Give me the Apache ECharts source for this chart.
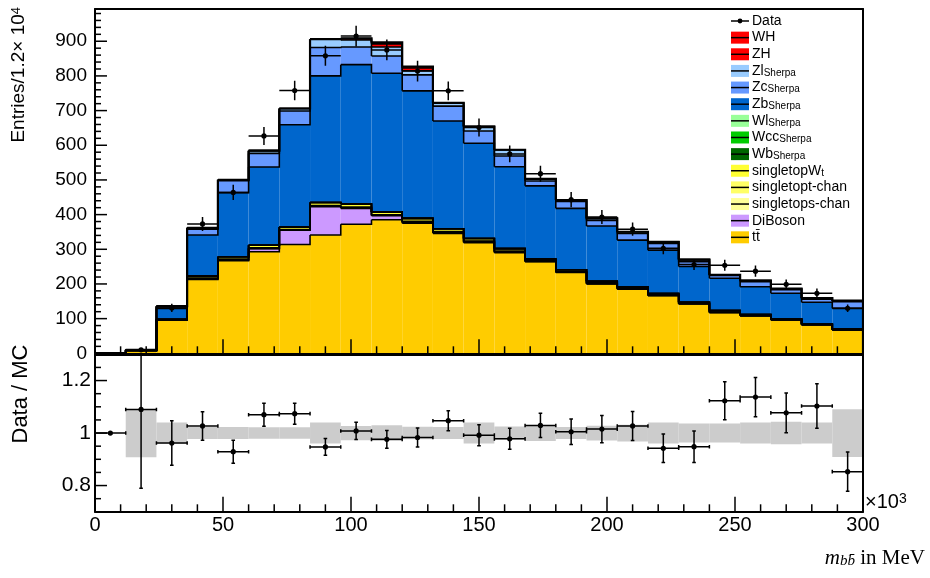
<!DOCTYPE html>
<html>
<head>
<meta charset="utf-8">
<script src="https://cdn.jsdelivr.net/npm/echarts/dist/echarts.min.js"></script>
<style>
html, body { margin: 0; padding: 0; background: #fff; }
#chart { width: 930px; height: 578px; }
</style>
</head>
<body>
<div id="chart"></div>
<script>
// bins of 12 GeV (values in units of 10^3 MeV)
var binLo = [0, 12, 24, 36, 48, 60, 72, 84, 96, 108, 120, 132, 144, 156, 168, 180, 192, 204, 216, 228, 240, 252, 264, 276, 288];
var binHi = [12, 24, 36, 48, 60, 72, 84, 96, 108, 120, 132, 144, 156, 168, 180, 192, 204, 216, 228, 240, 252, 264, 276, 288, 300];

// MC components, bottom of the stack first
var ttbar   = [0, 8, 96, 213, 267, 293, 314, 341, 372, 385, 375, 346, 319, 290, 264, 233, 200, 185, 166, 142, 117, 108, 96, 82, 67];
var diboson = [0, 0, 0, 2, 2, 9, 41, 82, 46, 12, 3, 2, 2, 2, 1, 1, 1, 1, 1, 1, 1, 0.5, 0.5, 0.5, 0.5];
var stopS   = [0, 0, 0.2, 0.5, 0.5, 0.5, 0.5, 1, 1, 1, 1, 1, 1, 1, 0.5, 0.5, 0.5, 0.5, 0.5, 0.3, 0.3, 0.3, 0.3, 0.2, 0.2];
var stopT   = [0, 0, 0.3, 1.5, 2, 1.5, 1.5, 2, 2.5, 1.5, 2, 2, 2, 2, 1.5, 1.5, 1.5, 1, 1, 1, 1, 1, 0.5, 0.5, 0.5];
var stopWt  = [0, 0.5, 1.5, 6, 7, 7.5, 7, 9, 9, 8, 8, 8, 7, 7, 5, 5, 5, 4, 4, 3, 4, 2, 2, 2, 1.5];
var wb      = [0, 0, 0, 0, 0, 0, 0, 0, 0, 0, 0, 0, 0, 0, 0, 0, 0, 0, 0, 0, 0, 0, 0, 0, 0];
var wcc     = [0, 0, 0, 0, 0, 0, 0, 0, 0, 0, 0, 0, 0, 0, 0, 0, 0, 0, 0, 0, 0, 0, 0, 0, 0];
var wl      = [0, 0, 0, 0, 0, 0, 0, 0, 0, 0, 0, 0, 0, 0, 0, 0, 0, 0, 0, 0, 0, 0, 0, 0, 0];
var zb      = [0, 1, 31, 118, 185, 226, 295, 365, 402, 400, 368, 311, 275, 236, 211, 177, 159, 135, 125, 103, 93, 80, 74, 62, 60];
var zc      = [0, 0.3, 5, 17, 34, 39, 40, 82, 51, 50, 46, 43, 35, 31, 14, 20, 16, 19, 19, 14, 8, 15, 10, 9, 19];
var zl      = [0, 0.2, 2, 4, 3, 8, 7, 24, 20, 26, 12, 8, 13, 18, 6, 4, 6, 5, 5, 6, 2, 3, 3, 3, 3];
var zh      = [0, 0, 0, 0, 0, 0, 0, 0, 4, 9, 8, 1, 0, 0, 0, 0, 0, 0, 0, 0, 0, 0, 0, 0, 0];
var wh      = [0, 0, 0, 0, 0, 0, 0, 0, 1, 4, 4, 0.5, 0, 0, 0, 0, 0, 0, 0, 0, 0, 0, 0, 0, 0];

// data
var dataVal = [0, 10, 131, 373, 464, 627, 758, 858, 915, 875, 814, 757, 651, 575, 518, 443, 393, 358, 303, 256, 254, 237, 199, 173, 130];
var dataErr = [0, 3, 12, 20, 22, 26, 28, 29, 30, 30, 30, 27, 26, 24, 23, 22, 20, 19, 17, 16, 16, 16, 14, 14, 11];

// ratio panel
var ratioVal = [1.0, 1.09, 0.962, 1.027, 0.929, 1.07, 1.074, 0.947, 1.008, 0.976, 0.983, 1.047, 0.992, 0.978, 1.029, 1.005, 1.015, 1.027, 0.942, 0.948, 1.123, 1.137, 1.077, 1.103, 0.853];
var ratioErr = [0, 0.30, 0.085, 0.054, 0.044, 0.044, 0.04, 0.032, 0.033, 0.034, 0.036, 0.038, 0.04, 0.04, 0.046, 0.049, 0.052, 0.055, 0.054, 0.06, 0.072, 0.075, 0.076, 0.085, 0.075];
var mcBand   = [0, 0.092, 0.04, 0.023, 0.023, 0.022, 0.022, 0.04, 0.027, 0.03, 0.024, 0.023, 0.04, 0.025, 0.03, 0.023, 0.028, 0.032, 0.04, 0.036, 0.036, 0.04, 0.043, 0.04, 0.091];

// tick marks
var xMajorTicks = [0, 50, 100, 150, 200, 250, 300];
var mainTicks = [0, 100, 200, 300, 400, 500, 600, 700, 800, 900];
var ratioTicks = [0.8, 1, 1.2];
var ratioMinorTicks = [0.75, 0.85, 0.9, 0.95, 1.05, 1.1, 1.15, 1.25];

var layers = [
  {name: 'tt\u0304', sub: '', color: '#FFCC00', values: ttbar},
  {name: 'DiBoson', sub: '', color: '#CC99FF', values: diboson},
  {name: 'singletops-chan', sub: '', color: '#FFFF99', values: stopS},
  {name: 'singletopt-chan', sub: '', color: '#FFFF66', values: stopT},
  {name: 'singletopW', sub: 't', color: '#FFFF33', values: stopWt},
  {name: 'Wb', sub: 'Sherpa', color: '#006600', values: wb},
  {name: 'Wcc', sub: 'Sherpa', color: '#00CC00', values: wcc},
  {name: 'Wl', sub: 'Sherpa', color: '#99FF99', values: wl},
  {name: 'Zb', sub: 'Sherpa', color: '#0066CC', values: zb},
  {name: 'Zc', sub: 'Sherpa', color: '#6699FF', values: zc},
  {name: 'Zl', sub: 'Sherpa', color: '#99CCFF', values: zl},
  {name: 'ZH', sub: '', color: '#FF0000', values: zh},
  {name: 'WH', sub: '', color: '#FF0000', values: wh}
];

var FONT = "'Liberation Sans', Arial, Helvetica, sans-serif";
var SERIF = "'Liberation Serif', 'Times New Roman', serif";
var myChart = echarts.init(document.getElementById('chart'));

// cumulative stack
var running = binLo.map(function () { return 0; });
var series = [];
layers.forEach(function (L, li) {
  var bottom = running.slice();
  running = running.map(function (v, k) { return v + L.values[k]; });
  var top = running.slice();
  var rows = binLo.map(function (lo, k) {
    var next = k + 1 < top.length ? top[k + 1] : 0;
    return [lo, binHi[k], bottom[k], top[k], next];
  });
  var lw = li === layers.length - 1 ? 2.2 : 1.6;
  series.push({
    type: 'custom',
    name: L.name,
    xAxisIndex: 0,
    yAxisIndex: 0,
    clip: true,
    data: rows,
    encode: {x: [0, 1], y: [2, 3]},
    renderItem: function (params, api) {
      var x0 = api.value(0), x1 = api.value(1), b = api.value(2), t = api.value(3), n = api.value(4);
      var pt = api.coord([x0, t]), pb = api.coord([x1, b]), pn = api.coord([x1, n]);
      var kids = [];
      if (t > b) {
        kids.push({type: 'rect', z2: 1,
          shape: {x: pt[0], y: pt[1], width: pb[0] - pt[0], height: pb[1] - pt[1]},
          style: {fill: L.color}});
      }
      kids.push({type: 'polyline', z2: 10 + li,
        shape: {points: [[pt[0], pt[1]], [pb[0], pt[1]], [pn[0], pn[1]]]},
        style: {stroke: '#000', lineWidth: lw, fill: null}});
      return {type: 'group', children: kids};
    }
  });
});

function pointRenderer(caps) {
  return function (params, api) {
    var x = api.value(0), y = api.value(1), e = api.value(2), x0 = api.value(3), x1 = api.value(4);
    var c = api.coord([x, y]), l = api.coord([x0, y]), r = api.coord([x1, y]);
    var up = api.coord([x, y + e]), dn = api.coord([x, y - e]);
    var st = {stroke: '#000', lineWidth: 1.5};
    var kids = [
      {type: 'line', z2: 40, shape: {x1: l[0], y1: c[1], x2: r[0], y2: c[1]}, style: st},
      {type: 'line', z2: 40, shape: {x1: c[0], y1: up[1], x2: c[0], y2: dn[1]}, style: st},
      {type: 'circle', z2: 41, shape: {cx: c[0], cy: c[1], r: 2.6}, style: {fill: '#000'}}
    ];
    if (caps) {
      kids.push({type: 'line', z2: 40, shape: {x1: l[0], y1: c[1] - 1.8, x2: l[0], y2: c[1] + 1.8}, style: st});
      kids.push({type: 'line', z2: 40, shape: {x1: r[0], y1: c[1] - 1.8, x2: r[0], y2: c[1] + 1.8}, style: st});
      if (e > 0) {
        kids.push({type: 'line', z2: 40, shape: {x1: c[0] - 1.8, y1: up[1], x2: c[0] + 1.8, y2: up[1]}, style: st});
        kids.push({type: 'line', z2: 40, shape: {x1: c[0] - 1.8, y1: dn[1], x2: c[0] + 1.8, y2: dn[1]}, style: st});
      }
    }
    return {type: 'group', children: kids};
  };
}

var dataRows = [];
binLo.forEach(function (lo, k) {
  if (dataVal[k] > 0) dataRows.push([(lo + binHi[k]) / 2, dataVal[k], dataErr[k], lo, binHi[k]]);
});
series.push({
  type: 'custom', name: 'Data', xAxisIndex: 0, yAxisIndex: 0, clip: true,
  data: dataRows, encode: {x: 0, y: 1},
  renderItem: pointRenderer(false)
});

// MC uncertainty band in ratio panel
var bandRows = [];
binLo.forEach(function (lo, k) {
  if (mcBand[k] > 0) bandRows.push([lo, binHi[k], 1 - mcBand[k], 1 + mcBand[k]]);
});
series.push({
  type: 'custom', name: 'MC unc', xAxisIndex: 1, yAxisIndex: 2, clip: true,
  data: bandRows, encode: {x: [0, 1], y: [2, 3]},
  renderItem: function (params, api) {
    var a = api.coord([api.value(0), api.value(3)]), b = api.coord([api.value(1), api.value(2)]);
    return {type: 'rect', z2: 1, shape: {x: a[0], y: a[1], width: b[0] - a[0], height: b[1] - a[1]},
      style: {fill: '#CCCCCC'}};
  }
});

var ratioRows = binLo.map(function (lo, k) {
  return [(lo + binHi[k]) / 2, ratioVal[k], ratioErr[k], lo, binHi[k]];
});
series.push({
  type: 'custom', name: 'Ratio', xAxisIndex: 1, yAxisIndex: 2, clip: true,
  data: ratioRows, encode: {x: 0, y: 1},
  renderItem: pointRenderer(true)
});

function near(v, list) {
  for (var i = 0; i < list.length; i++) if (Math.abs(v - list[i]) < 1e-6) return true;
  return false;
}

function frameLine() {
  return {show: true, onZero: false, lineStyle: {color: '#000', width: 2}};
}
// plain axis used only to draw the top / right side of a frame
function edgeAxis(grid, pos, min, max) {
  return {gridIndex: grid, type: 'value', position: pos, min: min, max: max, z: 12,
    axisLine: frameLine(), axisTick: {show: false}, axisLabel: {show: false}, splitLine: {show: false}};
}

// legend built from the layer list
var legendRows = [{name: 'Data', sub: '', color: null}].concat(layers.slice().reverse());
var graphics = [];
legendRows.forEach(function (L, i) {
  var cy = 21 + 16.64 * i;
  if (L.color) {
    graphics.push({type: 'rect', shape: {x: 731, y: cy - 6, width: 18, height: 12}, style: {fill: L.color}});
    graphics.push({type: 'line', shape: {x1: 731, y1: cy, x2: 749, y2: cy}, style: {stroke: '#000', lineWidth: 1.5}});
  } else {
    graphics.push({type: 'line', shape: {x1: 731, y1: cy, x2: 749, y2: cy}, style: {stroke: '#000', lineWidth: 1.5}});
    graphics.push({type: 'circle', shape: {cx: 740, cy: cy, r: 2.4}, style: {fill: '#000'}});
  }
  var txt = '{m|' + L.name + '}' + (L.sub ? '{s|' + L.sub + '}' : '');
  graphics.push({type: 'text', x: 752, y: cy - 7,
    style: {text: txt, align: 'left', verticalAlign: 'top', textAlign: 'left', textVerticalAlign: 'top', fill: '#000',
      rich: {
        m: {fontFamily: FONT, fontSize: 14, lineHeight: 14, verticalAlign: 'top', fill: '#000'},
        s: {fontFamily: FONT, fontSize: 10, lineHeight: 10, verticalAlign: 'bottom', padding: [8, 0, 0, 0], fill: '#000'}
      }}});
});

// axis titles
graphics.push({type: 'text', x: 19, y: 7, rotation: Math.PI / 2,
  style: {text: '{a|Entries/1.2\u00d7 10}{b|4}', align: 'right', verticalAlign: 'middle', textAlign: 'right', textVerticalAlign: 'middle', fill: '#000',
    rich: {
      a: {fontFamily: FONT, fontSize: 19, lineHeight: 19, verticalAlign: 'bottom', padding: [5, 0, 0, 0], fill: '#000'},
      b: {fontFamily: FONT, fontSize: 13, lineHeight: 13, verticalAlign: 'top', fill: '#000'}
    }}});
graphics.push({type: 'text', x: 20.5, y: 394, rotation: Math.PI / 2,
  style: {text: 'Data / MC', font: '22px ' + FONT, align: 'center', verticalAlign: 'middle', textAlign: 'center', textVerticalAlign: 'middle', fill: '#000'}});
graphics.push({type: 'text', x: 865, y: 492,
  style: {text: '{a|\u00d710}{b|3}', align: 'left', verticalAlign: 'top', textAlign: 'left', textVerticalAlign: 'top', fill: '#000',
    rich: {
      a: {fontFamily: FONT, fontSize: 20, lineHeight: 20, verticalAlign: 'bottom', padding: [5, 0, 0, 0], fill: '#000'},
      b: {fontFamily: FONT, fontSize: 14, lineHeight: 14, verticalAlign: 'top', fill: '#000'}
    }}});
graphics.push({type: 'text', x: 925, y: 548,
  style: {text: '{i|m}{s|bb\u0304}{r| in MeV}', align: 'right', verticalAlign: 'top', textAlign: 'right', textVerticalAlign: 'top', fill: '#000',
    rich: {
      i: {fontFamily: SERIF, fontStyle: 'italic', fontSize: 21, lineHeight: 21, verticalAlign: 'top', fill: '#000'},
      s: {fontFamily: SERIF, fontStyle: 'italic', fontSize: 15, lineHeight: 15, verticalAlign: 'bottom', padding: [10, 0, 0, 0], fill: '#000'},
      r: {fontFamily: SERIF, fontSize: 21, lineHeight: 21, verticalAlign: 'top', fill: '#000'}
    }}});

var option = {
  animation: false,
  grid: [
    {left: 95, top: 9, width: 768, height: 344.3},
    {left: 95, top: 354.3, width: 768, height: 157.5}
  ],
  xAxis: [
    {gridIndex: 0, type: 'value', position: 'bottom', min: 0, max: 300, interval: 50, z: 12,
      axisLine: frameLine(), splitLine: {show: false}, axisLabel: {show: false}, axisTick: {show: false}},
    {gridIndex: 1, type: 'value', position: 'bottom', min: 0, max: 300, interval: 50, z: 12,
      axisLine: frameLine(), splitLine: {show: false}, axisTick: {show: false},
      axisLabel: {show: true, color: '#000', fontFamily: FONT, fontSize: 20, margin: 4}},
    edgeAxis(0, 'top', 0, 300),
    edgeAxis(1, 'top', 0, 300)
  ],
  yAxis: [
    {gridIndex: 0, type: 'value', min: 0, max: 993, interval: 100, position: 'left', z: 12,
      axisLine: frameLine(), splitLine: {show: false}, axisTick: {show: false},
      axisLabel: {color: '#000', fontFamily: FONT, fontSize: 19, margin: 8,
        formatter: function (v) { return near(v, mainTicks) ? String(v) : ''; }}},
    edgeAxis(0, 'right', 0, 993),
    {gridIndex: 1, type: 'value', min: 0.7, max: 1.3, interval: 0.05, position: 'left', z: 12,
      axisLine: frameLine(), splitLine: {show: false}, axisTick: {show: false},
      axisLabel: {color: '#000', fontFamily: FONT, fontSize: 21, margin: 4,
        formatter: function (v) { return near(v, ratioTicks) ? String(Math.round(v * 10) / 10) : ''; }}},
    edgeAxis(1, 'right', 0.7, 1.3)
  ],
  series: series
};

myChart.setOption(option);

// ROOT-style inside ticks, placed through the axes' own scales
function addTicks(finder, yBase, xMajLen, xMinLen, yMaj, yMinor, yMajLen, yMinLen) {
  function tick(x, y, dx, dy) {
    var p = myChart.convertToPixel(finder, [x, y]);
    graphics.push({type: 'line', z: 20, silent: true,
      shape: {x1: p[0], y1: p[1], x2: p[0] + dx, y2: p[1] + dy},
      style: {stroke: '#000', lineWidth: 1.5}});
  }
  xMajorTicks.forEach(function (v) { tick(v, yBase, 0, -xMajLen); });
  for (var v = 10; v < 300; v += 10) {
    if (v % 50 !== 0) tick(v, yBase, 0, -xMinLen);
  }
  yMaj.forEach(function (v) { tick(0, v, yMajLen, 0); });
  yMinor.forEach(function (v) { tick(0, v, yMinLen, 0); });
}
var mainMinorTicks = [];
for (var m = 20; m < 993; m += 20) {
  if (m % 100 !== 0) mainMinorTicks.push(m);
}
addTicks({xAxisIndex: 0, yAxisIndex: 0}, 0, 14, 7, mainTicks, mainMinorTicks, 12, 6);
addTicks({xAxisIndex: 1, yAxisIndex: 2}, 0.7, 15, 7.5, ratioTicks, ratioMinorTicks, 12, 6);

myChart.setOption({graphic: {elements: graphics}});
</script>
</body>
</html>
